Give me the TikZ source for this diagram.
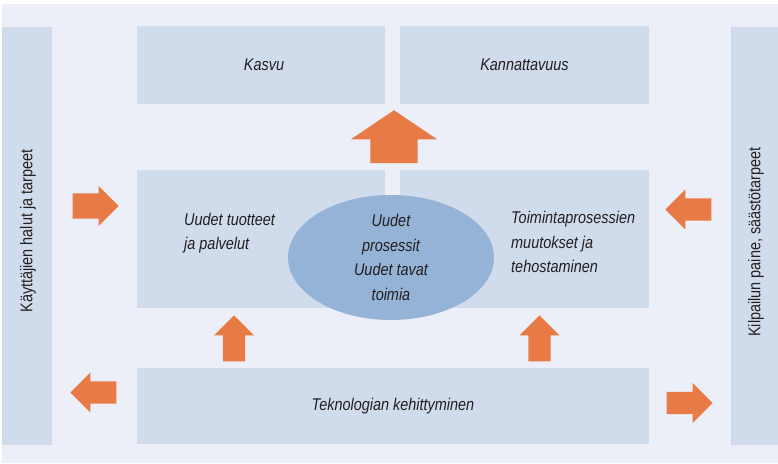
\documentclass[tikz,border=0pt]{standalone}
\usepackage{fontspec}
\setmainfont{Liberation Sans}[FakeStretch=0.85]
\usetikzlibrary{shapes.geometric,shapes.arrows}
\definecolor{bgblue}{RGB}{236,239,247}
\definecolor{boxblue}{RGB}{208,220,236}
\definecolor{ovalblue}{RGB}{149,179,215}
\definecolor{arroworange}{RGB}{232,122,69}
\definecolor{textdark}{RGB}{35,31,32}
\begin{document}
\begin{tikzpicture}
[x=1pt, y=-1pt,
 box/.style={fill=boxblue, inner sep=0pt},
 txt/.style={text=textdark, inner sep=0pt, font=\fontsize{17}{24.5}\selectfont\itshape},
 side/.style={text=textdark, inner sep=0pt, rotate=90, font=\fontsize{17}{24}\selectfont},
 blockarrow/.style={single arrow, fill=arroworange, draw=none, anchor=tip, inner xsep=0pt,
   inner ysep=11pt, minimum width=0pt, minimum height=46pt, single arrow head extend=9pt},
 uparrow/.style={blockarrow, inner xsep=11pt, inner ysep=0pt, shape border rotate=90}]
\useasboundingbox (0,0) rectangle (778,463);
\fill [bgblue] (2,4) rectangle (778,463);
% side panels
\node [box, minimum width=50pt, minimum height=418pt] (users) at (27,236) {};
\node [box, minimum width=47pt, minimum height=418pt] (rivals) at (754.5,236) {};
\node [side] (userstxt) at (28,231) {Käyttäjien halut ja tarpeet};
\node [side] (rivalstxt) at (756,242) {Kilpailun paine, säästötarpeet};
% top row
\node [box, minimum width=248pt, minimum height=78pt] (kasvu) at (261,65) {};
\node [box, minimum width=249pt, minimum height=78pt] (kannattavuus) at (524.5,65) {};
\node [txt] at ([xshift=3pt]kasvu) {Kasvu};
\node [txt] at (kannattavuus) {Kannattavuus};
% middle row
\node [box, minimum width=248pt, minimum height=138pt] (tuotteet) at (261,239) {};
\node [box, minimum width=249pt, minimum height=138pt] (toiminta) at (524.5,239) {};
\node [txt, align=left, anchor=west] (tuotteettxt) at (184,233) {Uudet tuotteet\\ja palvelut};
\node [txt, align=left, anchor=west] (toimintatxt) at (511,242) {Toimintaprosessien\\muutokset ja\\tehostaminen};
\node [ellipse, fill=ovalblue, minimum width=206pt, minimum height=125pt, inner sep=0pt] (prosessit) at (391,257.5) {};
\node [txt, align=center] (prosessittxt) at (prosessit) {Uudet\\prosessit\\Uudet tavat\\toimia};
% bottom row
\node [box, minimum width=512pt, minimum height=76pt] (teknologia) at (393,406) {};
\node [txt] at (teknologia) {Teknologian kehittyminen};
% arrows
\node [uparrow, minimum height=53pt, inner xsep=23.5pt, single arrow head extend=19.5pt,
  single arrow tip angle=112] (kasvuup) at (394,110) {};
\node [blockarrow, inner ysep=12.5pt, single arrow head extend=7.5pt] (usersin) at (119,206) {};
\node [blockarrow, shape border rotate=180] (usersout) at (70,392.5) {};
\node [blockarrow, shape border rotate=180] (rivalsin) at (665,209.5) {};
\node [blockarrow] (rivalsout) at (713,403) {};
\node [uparrow] (tekup1) at (234,315) {};
\node [uparrow] (tekup2) at (539.5,315) {};
\end{tikzpicture}
\end{document}
